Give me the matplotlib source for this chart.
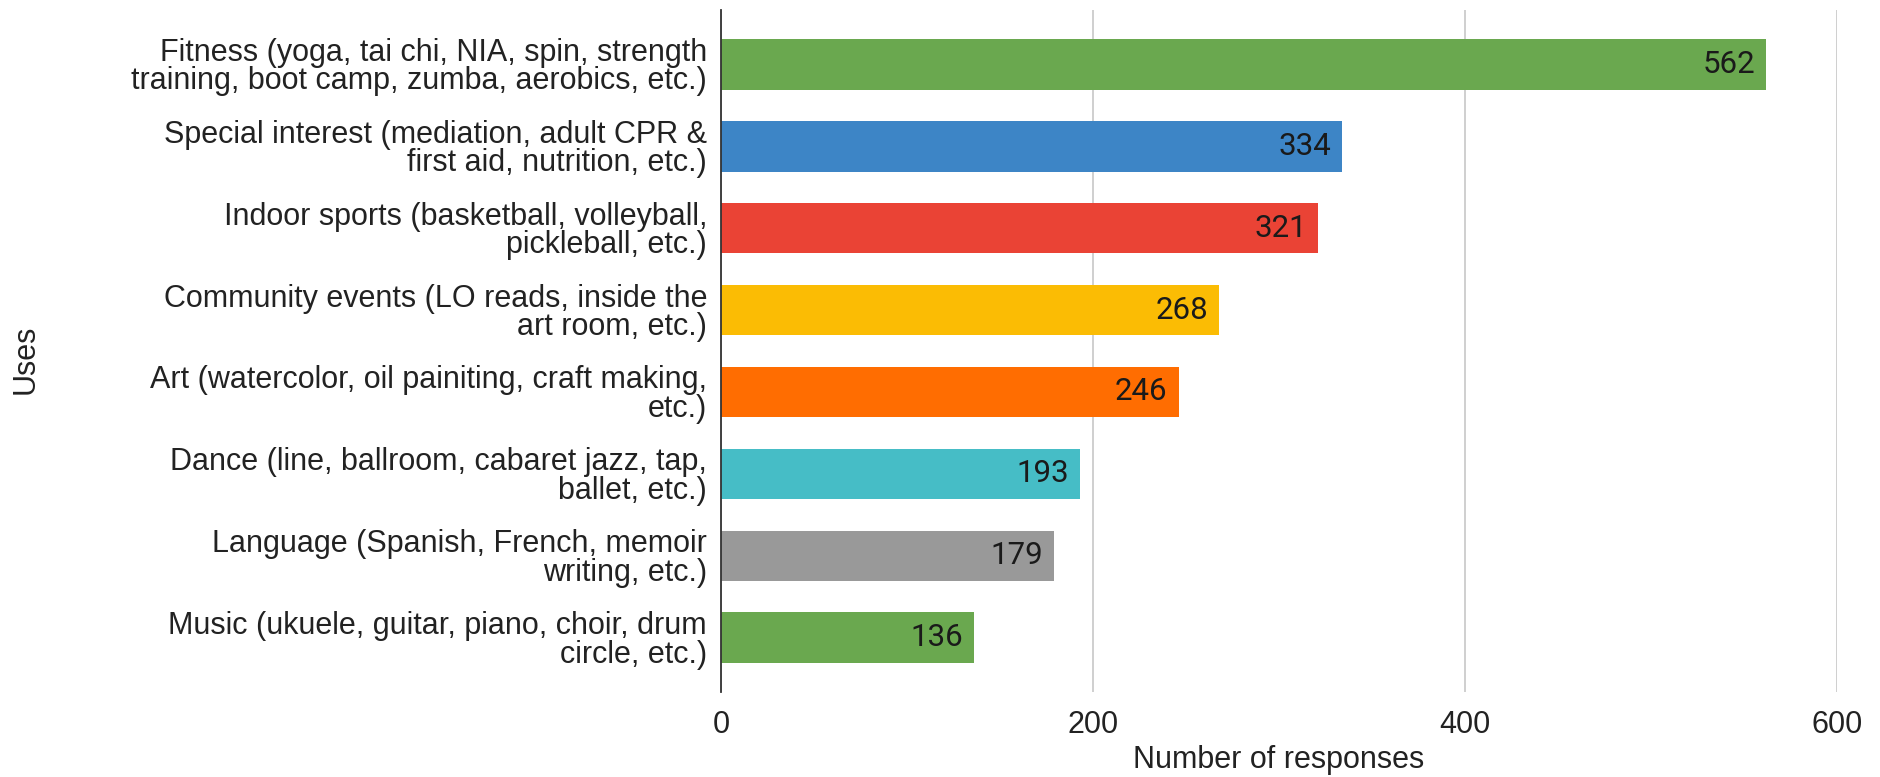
import matplotlib
matplotlib.use("Agg")
import matplotlib.pyplot as plt

categories = [
    "Fitness (yoga, tai chi, NIA, spin, strength\ntraining, boot camp, zumba, aerobics, etc.)",
    "Special interest (mediation, adult CPR &\nfirst aid, nutrition, etc.)",
    "Indoor sports (basketball, volleyball,\npickleball, etc.)",
    "Community events (LO reads, inside the\nart room, etc.)",
    "Art (watercolor, oil painiting, craft making,\netc.)",
    "Dance (line, ballroom, cabaret jazz, tap,\nballet, etc.)",
    "Language (Spanish, French, memoir\nwriting, etc.)",
    "Music (ukuele, guitar, piano, choir, drum\ncircle, etc.)",
]
values = [562, 334, 321, 268, 246, 193, 179, 136]
colors = ["#6aa84f", "#3d85c6", "#ea4335", "#fbbc04", "#ff6d01", "#46bdc6", "#999999", "#6aa84f"]
xticks = [0, 200, 400, 600]

plt.rcParams['font.family'] = ['Liberation Sans', 'DejaVu Sans']

fig = plt.figure(figsize=(18.81, 7.77), dpi=100)
ax = fig.add_axes([0.3833, 0.1094, 0.5933, 0.8777])

y = list(range(len(categories)))
bars = ax.barh(y, values, height=0.62, color=colors, zorder=3)
for b, v in zip(bars, values):
    ax.annotate(str(v), xy=(v, b.get_y() + b.get_height() / 2), xytext=(-8, 0),
                textcoords="offset points", ha="right", va="center",
                fontsize=22.5, color="#1a1a1a", zorder=4,
                family=['Roboto', 'DejaVu Sans'])

ax.set_ylim(7.66, -0.66)
ax.set_xlim(0, 600)
ax.set_yticks(y)
ax.set_yticklabels(categories, fontsize=22, color="#222222", linespacing=0.95)
ax.set_xticks(xticks)
ax.set_xticklabels([str(t) for t in xticks], fontsize=22, color="#222222")
ax.tick_params(axis="both", length=0)
ax.tick_params(axis="x", pad=13)
ax.tick_params(axis="y", pad=10)
ax.grid(axis="x", color="#cccccc", linewidth=1.3, zorder=0)
for s in ["top", "right", "bottom"]:
    ax.spines[s].set_visible(False)
ax.spines["left"].set_color("#333333")
ax.spines["left"].set_linewidth(1.3)
ax.spines["left"].set_zorder(5)

ax.set_xlabel("Number of responses", fontsize=22, color="#222222")
ax.xaxis.set_label_coords(0.5, -0.077)
ax.set_ylabel("Uses", fontsize=22, color="#222222")
ax.yaxis.set_label_coords(-0.610, 0.488)

fig.savefig("out.png", dpi=100, facecolor="white")
